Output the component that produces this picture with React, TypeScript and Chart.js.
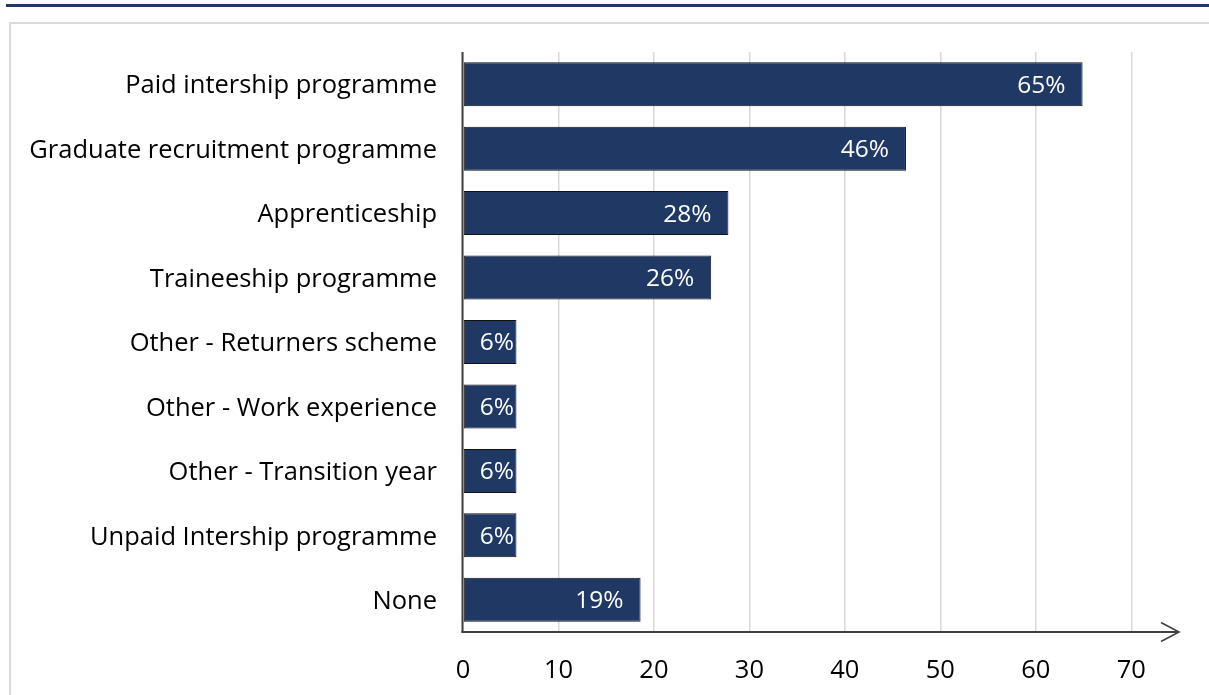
import React, { useEffect, useRef } from "react";
import { Chart, registerables } from "chart.js";
Chart.register(...registerables);

const categories = [
  "Paid intership programme",
  "Graduate recruitment programme",
  "Apprenticeship",
  "Traineeship programme",
  "Other - Returners scheme",
  "Other - Work experience",
  "Other - Transition year",
  "Unpaid Intership programme",
  "None",
];
const values = [64.9, 46.4, 27.8, 26.0, 5.6, 5.6, 5.6, 5.6, 18.6];
const valueLabels = ["65%", "46%", "28%", "26%", "6%", "6%", "6%", "6%", "19%"];
const xTicks = [0, 10, 20, 30, 40, 50, 60, 70];

const FONT = "'Open Sans'";
const FSIZE = 25.5;
const NAVY = "#203864";

const labelPlugin = {
  id: "barLabels",
  afterDatasetsDraw(chart: any) {
    const ctx = chart.ctx;
    const meta = chart.getDatasetMeta(0);
    ctx.save();
    ctx.font = `${FSIZE - 1}px ${FONT}`;
    ctx.fillStyle = "#ffffff";
    ctx.textBaseline = "middle";
    ctx.textAlign = "left";
    meta.data.forEach((bar: any, i: number) => {
      const txt = valueLabels[i];
      const w = ctx.measureText(txt).width;
      const x = Math.max(bar.base + 16, bar.x - 17 - w);
      ctx.fillText(txt, x, bar.y + 1.5);
    });
    ctx.restore();
  },
};

const axesPlugin = {
  id: "arrowAxes",
  afterDraw(chart: any) {
    const { ctx, chartArea } = chart;
    const { left, top, bottom, right } = chartArea;
    ctx.save();
    ctx.strokeStyle = "#404040";
    ctx.lineWidth = 2;
    ctx.beginPath();
    ctx.moveTo(left - 0.5, top);
    ctx.lineTo(left - 0.5, bottom + 1);
    ctx.stroke();
    ctx.beginPath();
    ctx.moveTo(left - 1.5, bottom);
    ctx.lineTo(right, bottom);
    ctx.stroke();
    ctx.lineWidth = 1.6;
    ctx.beginPath();
    ctx.moveTo(right - 18, bottom - 9.5);
    ctx.lineTo(right, bottom);
    ctx.lineTo(right - 18, bottom + 9.5);
    ctx.stroke();
    ctx.restore();
  },
};

export default function App() {
  const ref = useRef<HTMLCanvasElement>(null);
  useEffect(() => {
    if (!ref.current) return;
    const chart = new Chart(ref.current, {
      type: "bar",
      data: {
        labels: categories,
        datasets: [
          {
            data: values,
            backgroundColor: NAVY,
            borderColor: "#111111",
            borderWidth: 1,
            borderSkipped: false,
            categoryPercentage: 1,
            barPercentage: 0.683,
          },
        ],
      },
      options: {
        indexAxis: "y",
        animation: false,
        responsive: false,
        layout: { padding: { top: 52, right: 30, left: 0, bottom: 0 } },
        plugins: { legend: { display: false }, tooltip: { enabled: false } },
        scales: {
          x: {
            type: "linear",
            min: 0,
            max: 75,
            afterBuildTicks: (s: any) => {
              s.ticks = xTicks.map((v) => ({ value: v }));
            },
            afterFit: (s: any) => {
              s.height = 63;
            },
            grid: { color: "#d9d9d9", lineWidth: 1.5, drawTicks: false },
            border: { display: false },
            ticks: {
              padding: 23,
              color: "#000000",
              font: { family: FONT, size: FSIZE },
              maxRotation: 0,
            },
          },
          y: {
            type: "category",
            afterFit: (s: any) => {
              s.width = 463;
            },
            grid: { display: false, drawTicks: false },
            border: { display: false },
            ticks: {
              padding: 26,
              labelOffset: 2,
              color: "#000000",
              font: { family: FONT, size: FSIZE },
            },
          },
        },
      },
      plugins: [labelPlugin, axesPlugin],
    });
    return () => chart.destroy();
  }, []);
  return (
    <div style={{ position: "fixed", left: 0, top: 0, width: 1209, height: 695, background: "#fff", overflow: "hidden" }}>
      <div style={{ position: "absolute", left: 6, top: 4, width: 1203, height: 3, background: NAVY }} />
      <div
        style={{
          position: "absolute",
          left: 9,
          top: 22,
          width: 1220,
          height: 700,
          borderLeft: "2px solid #d9d9d9",
          borderTop: "2px solid #d9d9d9",
        }}
      />
      <canvas ref={ref} width={1209} height={695} style={{ position: "absolute", left: 0, top: 0 }} />
    </div>
  );
}
